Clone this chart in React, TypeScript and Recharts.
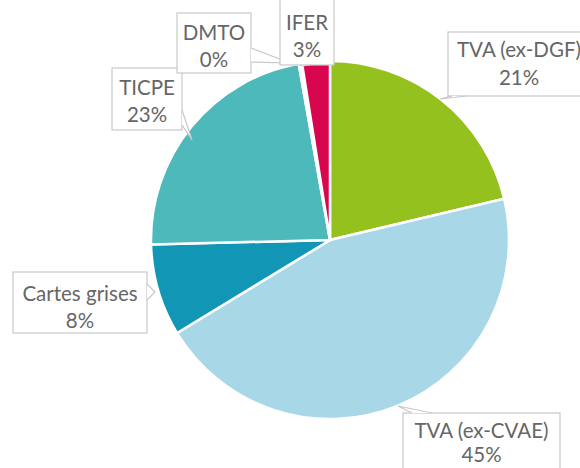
import React from 'react';
import { PieChart, Pie, Cell } from 'recharts';

const categories = ['TVA (ex-DGF)', 'TVA (ex-CVAE)', 'Cartes grises', 'TICPE', 'DMTO', 'IFER'];
const shares = [21.3, 45.0, 8.3, 22.6, 0.3, 2.5];
const colors = ['#95C11F', '#A8D8E7', '#1296B5', '#4DB9BA', '#FFFFFF', '#D8064F'];

const data = categories.map((name, i) => ({ name, value: shares[i] }));

// label box layout: box rect (x, y, w, h), baselines of the two text lines, and pointer tail polygon
const labelLayout: Record<string, { x: number; y: number; w: number; h: number; b1: number; b2: number; tail: [number, number][] }> = {
  'TVA (ex-DGF)': { x: 448, y: 32, w: 142, h: 64, b1: 57, b2: 85, tail: [[452, 96], [440, 99], [466, 96]] },
  'TVA (ex-CVAE)': { x: 403, y: 413, w: 157, h: 70, b1: 438, b2: 462, tail: [[412, 413], [398, 406], [432, 413]] },
  'Cartes grises': { x: 13, y: 272, w: 134, h: 61, b1: 301, b2: 328, tail: [[147, 284], [155, 292], [147, 300]] },
  'TICPE': { x: 112, y: 68, w: 70, h: 62, b1: 95, b2: 122, tail: [[182, 110], [192, 140], [182, 125]] },
  'DMTO': { x: 177, y: 13, w: 74, h: 60, b1: 40, b2: 67, tail: [[251, 48], [290, 63], [251, 62]] },
  'IFER': { x: 280, y: -5, w: 54, h: 70, b1: 30, b2: 57, tail: [[300, 65], [303, 66], [310, 65]] },
};

const renderLabel = (props: any) => {
  const { name, value } = props;
  const l = labelLayout[name];
  if (!l) return null;
  const cxText = l.x + l.w / 2;
  const pts = l.tail.map((p) => p.join(',')).join(' ');
  return (
    <g>
      <rect x={l.x} y={l.y} width={l.w} height={l.h} fill="#fff" stroke="#c8c8c8" strokeWidth={1.2} />
      <polyline points={pts} fill="#fff" stroke="#c8c8c8" strokeWidth={1.2} />
      <text x={cxText} y={l.b1} textAnchor="middle" fill="#666" fontSize={20.5} fontFamily="Lato">
        {name}
      </text>
      <text x={cxText} y={l.b2} textAnchor="middle" fill="#666" fontSize={20.5} fontFamily="Lato">
        {Math.round(value)}%
      </text>
    </g>
  );
};

export default function App() {
  return (
    <div style={{ position: 'absolute', left: 0, top: 0, width: 580, height: 468, background: '#fff', overflow: 'hidden' }}>
      <PieChart width={580} height={468} margin={{ top: 0, right: 0, bottom: 0, left: 0 }}>
        <Pie
          data={data}
          dataKey="value"
          nameKey="name"
          cx={330}
          cy={240}
          outerRadius={179}
          startAngle={90}
          endAngle={-270}
          stroke="#fff"
          strokeWidth={2.5}
          label={renderLabel}
          labelLine={false}
          isAnimationActive={false}
        >
          {data.map((d, i) => (
            <Cell key={d.name} fill={colors[i]} />
          ))}
        </Pie>
      </PieChart>
    </div>
  );
}
